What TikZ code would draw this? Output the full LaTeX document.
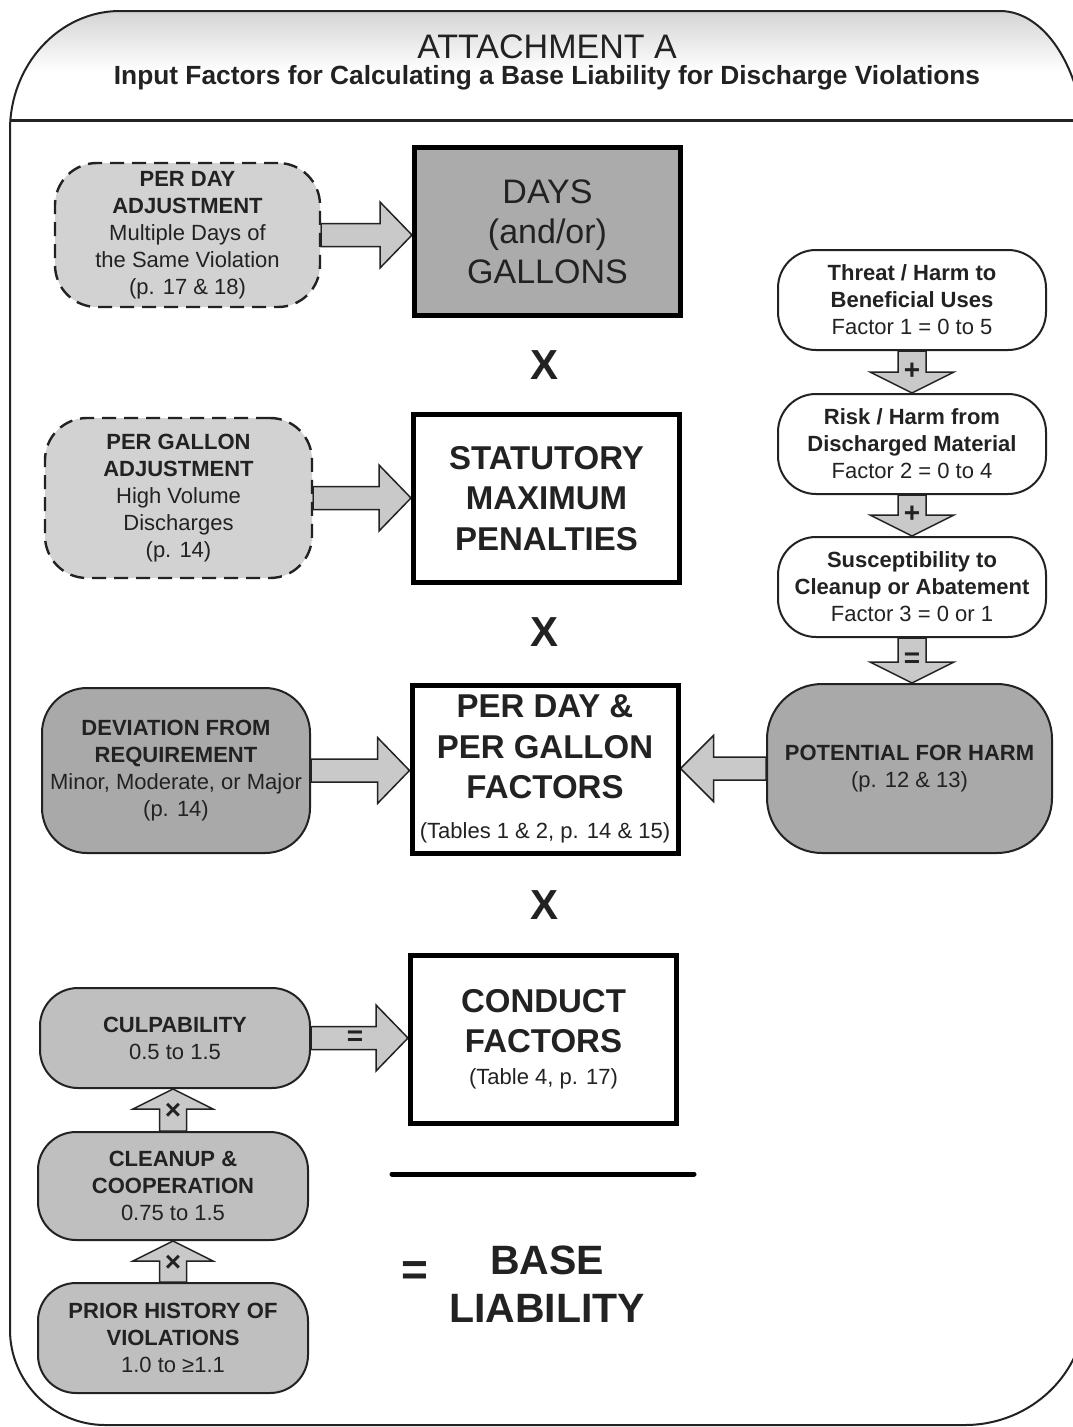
\documentclass[tikz,border=0pt]{standalone}
\usepackage{fontspec}
\setmainfont{Liberation Sans}
\usetikzlibrary{calc,backgrounds}

\definecolor{ink}{HTML}{222222}
\definecolor{dashfill}{HTML}{D2D2D2}
\definecolor{daysfill}{HTML}{ABABAB}
\definecolor{darkfill}{HTML}{A9A9A9}
\definecolor{factfill}{HTML}{BFBFBF}
\definecolor{arrowfill}{HTML}{C9C9C9}
\definecolor{hdrshade}{HTML}{D4D4D4}

% block arrows, drawn behind the boxes they join
\newcommand\blkright[2]{%
  \begin{pgfonlayer}{background}
  \draw[blk] let \p1=(#1.east), \p2=(#2.west) in
    (\x1,\y1+11.5pt) -- (\x2-32pt,\y1+11.5pt) -- (\x2-32pt,\y1+33pt) -- (\x2,\y1)
    -- (\x2-32pt,\y1-33pt) -- (\x2-32pt,\y1-11.5pt) -- (\x1,\y1-11.5pt) -- cycle;
  \end{pgfonlayer}}
\newcommand\blkleft[2]{%
  \begin{pgfonlayer}{background}
  \draw[blk] let \p1=(#1.west), \p2=(#2.east) in
    (\x1,\y1+11.5pt) -- (\x2+33pt,\y1+11.5pt) -- (\x2+33pt,\y1+33pt) -- (\x2,\y1)
    -- (\x2+33pt,\y1-33pt) -- (\x2+33pt,\y1-11.5pt) -- (\x1,\y1-11.5pt) -- cycle;
  \end{pgfonlayer}}
\newcommand\blkdown[2]{%
  \begin{pgfonlayer}{background}
  \draw[blk] let \p1=(#1.south), \p2=(#2.north) in
    (\x1-14pt,\y1) -- (\x1-14pt,\y2+21pt) -- (\x1-42pt,\y2+21pt) -- (\x1,\y2)
    -- (\x1+42pt,\y2+21pt) -- (\x1+14pt,\y2+21pt) -- (\x1+14pt,\y1) -- cycle;
  \end{pgfonlayer}}
\newcommand\blkup[2]{%
  \begin{pgfonlayer}{background}
  \draw[blk] let \p1=(#1.north), \p2=(#2.south) in
    (\x1-13.5pt,\y1) -- (\x1-13.5pt,\y2-20pt) -- (\x1-40pt,\y2-20pt) -- (\x1,\y2)
    -- (\x1+40pt,\y2-20pt) -- (\x1+13.5pt,\y2-20pt) -- (\x1+13.5pt,\y1) -- cycle;
  \end{pgfonlayer}}

\tikzset{
  every node/.style={text=ink},
  adjbox/.style={draw=ink, line width=2.4pt, dash pattern=on 14pt off 8pt,
    fill=dashfill, rounded corners=42pt, minimum width=265pt,
    minimum height=144pt, inner sep=0pt, align=center,
    font=\fontsize{22}{27}\selectfont},
  bigbox/.style={draw=black, line width=5pt, fill=white, minimum width=266pt,
    minimum height=168pt, inner sep=0pt, align=center,
    font=\bfseries\fontsize{33}{40.5}\selectfont},
  pill/.style={draw=ink, line width=2pt, fill=white, rounded corners=38pt,
    minimum width=268pt, minimum height=100pt, inner sep=0pt, align=center,
    font=\fontsize{22}{27}\selectfont},
  factbox/.style={pill, fill=factfill, minimum width=270pt},
  blk/.style={draw=ink, line width=1.5pt, fill=arrowfill, line join=miter},
  sym/.style={inner sep=0pt, font=\bfseries\fontsize{28}{28}\selectfont},
  times/.style={inner sep=0pt, font=\bfseries\fontsize{42}{42}\selectfont},
}

\begin{document}
\begin{tikzpicture}[x=1pt,y=-1pt]
\useasboundingbox (0,0) rectangle (1073,1427);

% outer frame outline
\path[save path=\framepath]
  (10,1330) -- (10,130) .. controls (10,65) and (59,11) .. (120,11)
  -- (1000,11) .. controls (1047,11) and (1085,74) .. (1085,151)
  -- (1085,1310) .. controls (1085,1373) and (1031,1425) .. (965,1425)
  -- (105,1425) .. controls (53,1425) and (10,1382) .. (10,1330) -- cycle;

% header band
\begin{scope}
  \clip[use path=\framepath];
  \shade[top color=hdrshade, bottom color=white] (0,11) rectangle (1073,72);
\end{scope}
\draw[ink, line width=2pt, use path=\framepath];
\draw[ink, line width=3pt] (10,120) -- (1085,120);

\node[font=\fontsize{34}{34}\selectfont, inner sep=0pt] (title) at (547,47) {ATTACHMENT A};
\node[font=\bfseries\fontsize{26.3}{27}\selectfont, inner sep=0pt] (subtitle) at (547,78)
  {Input Factors for Calculating a Base Liability for Discharge Violations};

% centre column
\node[bigbox, fill=daysfill, font=\fontsize{34}{40}\selectfont] (days) at (547.5,231.5)
  {DAYS\\(and/or)\\GALLONS};
\node[times] (x1) at (545,365) {X};
\node[bigbox] (stat) at (546.5,498.5) {STATUTORY\\MAXIMUM\\PENALTIES};
\node[times] (x2) at (545,632) {X};
\node[bigbox] (pdf) at (545,769)
  {PER DAY \&\\PER GALLON\\FACTORS\\[-1pt]{\mdseries\fontsize{22}{22}\selectfont (Tables 1 \& 2, p. 14 \& 15)}};
\node[times] (x3) at (545,905) {X};
\node[bigbox] (conduct) at (543.5,1039)
  {CONDUCT\\FACTORS\\[-9pt]{\mdseries\fontsize{22}{22}\selectfont (Table 4, p. 17)}};

\draw[black, line width=5pt, line cap=round] (392,1174) -- (694,1174);
\node[font=\bfseries\fontsize{46}{46}\selectfont, inner sep=0pt] (eqbase) at (415,1274) {=};
\node[font=\bfseries\fontsize{41}{48}\selectfont, align=center, inner sep=0pt] (base) at (547,1284)
  {BASE\\LIABILITY};

% left column
\node[adjbox] (pdadj) at (187.5,235)
  {\textbf{PER DAY}\\\textbf{ADJUSTMENT}\\Multiple Days of\\the Same Violation\\(p. 17 \& 18)};
\node[adjbox, minimum width=267pt, minimum height=160pt] (pgadj) at (178.5,498)
  {\textbf{PER GALLON}\\\textbf{ADJUSTMENT}\\High Volume\\Discharges\\(p. 14)};
\node[pill, fill=darkfill, rounded corners=45pt, minimum height=165pt] (dev) at (176,770.5)
  {\textbf{DEVIATION FROM}\\\textbf{REQUIREMENT}\\Minor, Moderate, or Major\\(p. 14)};
\node[factbox] (culp) at (175,1038) {\textbf{CULPABILITY}\\0.5 to 1.5};
\node[factbox, minimum height=108pt] (clean) at (173,1186)
  {\textbf{CLEANUP \&}\\\textbf{COOPERATION}\\0.75 to 1.5};
\node[factbox, minimum height=110pt] (prior) at (173,1338)
  {\textbf{PRIOR HISTORY OF}\\\textbf{VIOLATIONS}\\1.0 to ≥1.1};

% right column
\node[pill] (threat) at (912,300)
  {\textbf{Threat / Harm to}\\\textbf{Beneficial Uses}\\Factor 1 = 0 to 5};
\node[pill] (risk) at (912,444)
  {\textbf{Risk / Harm from}\\\textbf{Discharged Material}\\Factor 2 = 0 to 4};
\node[pill] (susc) at (912,587)
  {\textbf{Susceptibility to}\\\textbf{Cleanup or Abatement}\\Factor 3 = 0 or 1};
\node[pill, fill=darkfill, rounded corners=55pt, minimum width=285pt, minimum height=169pt] (pot)
  at (909.5,768.5) {\textbf{POTENTIAL FOR HARM}\\(p. 12 \& 13)};

% connectors
\blkright{pdadj}{days}
\blkright{pgadj}{stat}
\blkright{dev}{pdf}
\blkright{culp}{conduct}
\blkleft{pot}{pdf}
\blkdown{threat}{risk}
\blkdown{risk}{susc}
\blkdown{susc}{pot}
\blkup{clean}{culp}
\blkup{prior}{clean}

% operators on the connectors
\path let \p1=(threat.south), \p2=(risk.north) in node[sym] (plus1) at (\x1,\y2+22pt) {+};
\path let \p1=(risk.south), \p2=(susc.north) in node[sym] (plus2) at (\x1,\y2+22pt) {+};
\path let \p1=(susc.south), \p2=(pot.north) in node[sym] (eq1) at (\x1,\y2+23pt) {=};
\path let \p1=(culp.east), \p2=(conduct.west) in node[sym] (eq2) at (\x2-53pt,\y1) {=};
\path let \p1=(clean.north), \p2=(culp.south) in node[sym] (mul1) at (\x1,\y2-22pt) {×};
\path let \p1=(prior.north), \p2=(clean.south) in node[sym] (mul2) at (\x1,\y2-22pt) {×};
\end{tikzpicture}
\end{document}
